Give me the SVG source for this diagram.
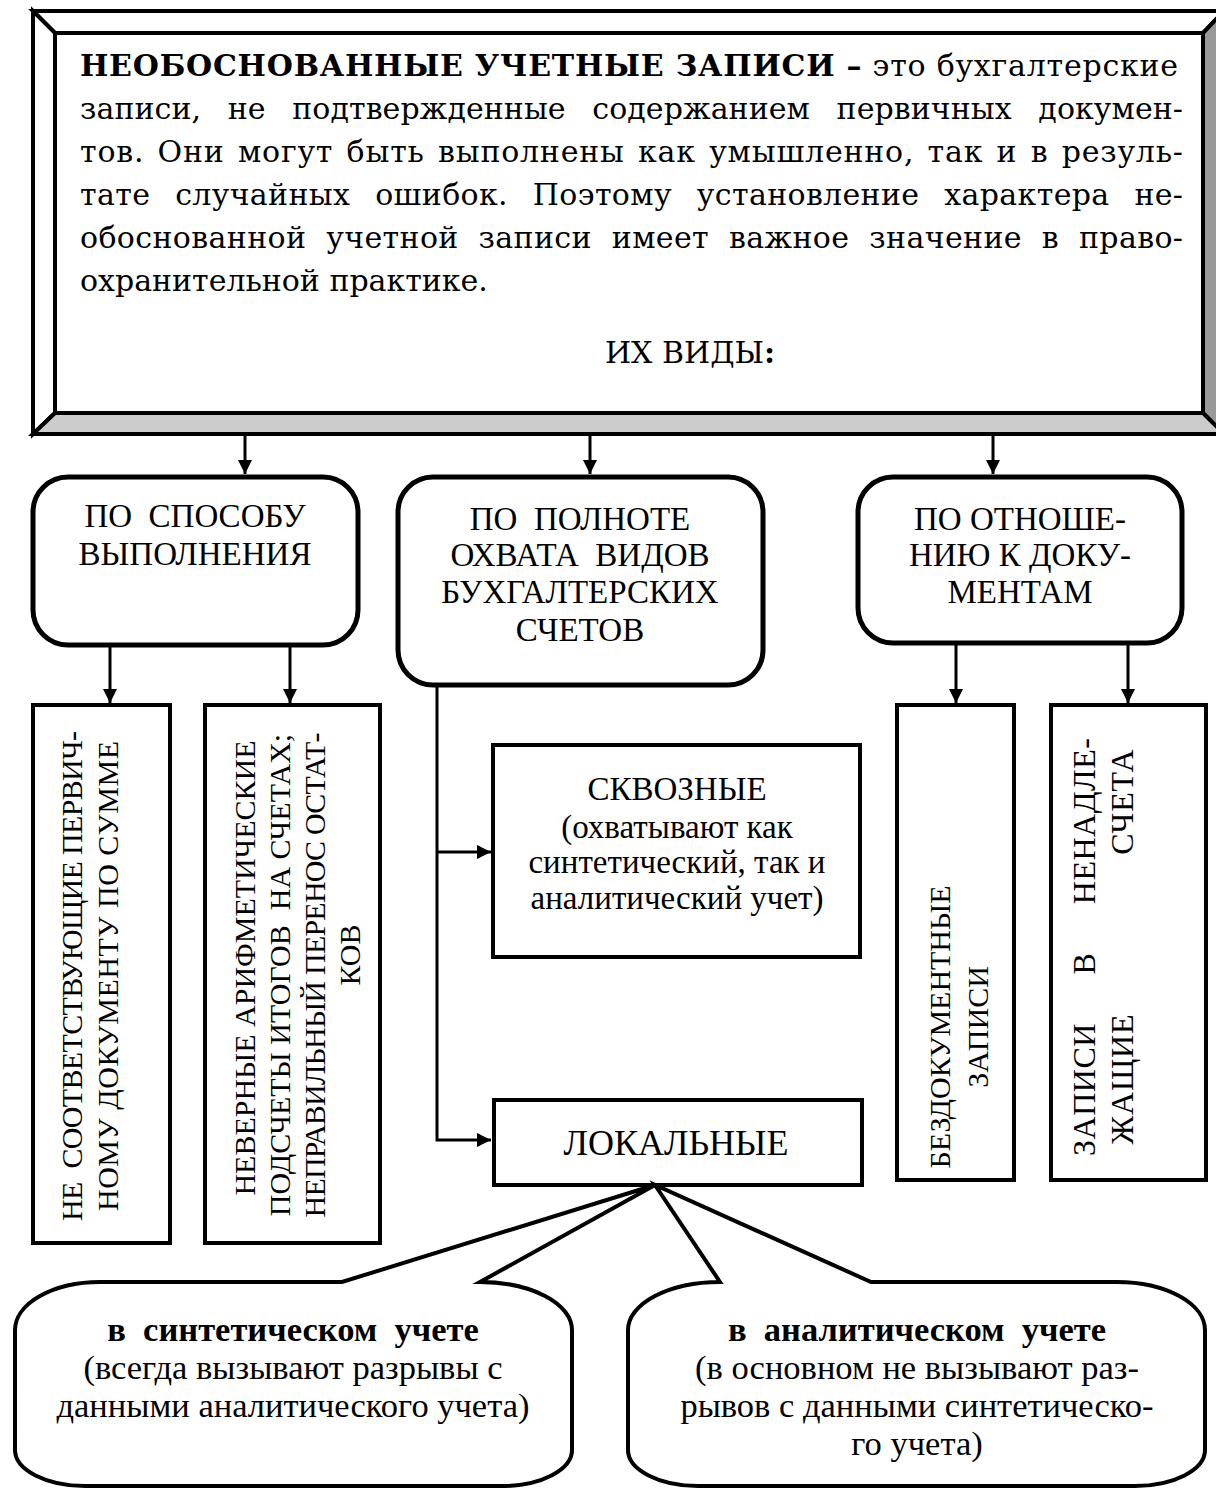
<svg xmlns="http://www.w3.org/2000/svg" width="1216" height="1490" viewBox="0 0 1216 1490">
<defs>
<style>
.bx{fill:#fff;stroke:#000;stroke-width:5}
.rc{fill:#fff;stroke:#000;stroke-width:4}
.ln{fill:none;stroke:#000;stroke-width:3}
.t{font-family:"Liberation Serif","Times New Roman",serif;font-size:33px;fill:#000}
.k{font-family:"Liberation Serif","Times New Roman",serif;font-size:34.5px;fill:#000}
.v{font-family:"Liberation Serif","Times New Roman",serif;font-size:30px;fill:#000}
.m{font-family:"DejaVu Serif",serif;font-size:30px;fill:#000}
.c{text-anchor:middle}
.b{font-weight:bold}
.pre{white-space:pre}
</style>
<marker id="ah" markerWidth="14" markerHeight="14" refX="14" refY="7" orient="auto" markerUnits="userSpaceOnUse"><path d="M0,0 L14,7 L0,14 Z" fill="#000"/></marker>
</defs>
<rect width="1216" height="1490" fill="#fff"/>

<g id="main">
<polygon points="33,11 1224,11 1203,33 55,33" fill="#fff" stroke="#000" stroke-width="4"/>
<polygon points="33,11 55,33 55,413 33,434" fill="#fff" stroke="#000" stroke-width="4"/>
<polygon points="1224,11 1224,434 1203,413 1203,33" fill="#999" stroke="#000" stroke-width="4"/>
<polygon points="33,434 55,413 1203,413 1224,434" fill="#ccc" stroke="#000" stroke-width="4"/>
<rect x="55" y="33" width="1148" height="380" fill="#fff" stroke="#000" stroke-width="4"/>
<text class="m" x="80" y="76" textLength="1098" lengthAdjust="spacing"><tspan class="b">НЕОБОСНОВАННЫЕ УЧЕТНЫЕ ЗАПИСИ –</tspan> это бухгалтерские</text>
<text class="m" x="80" y="119" textLength="1103" lengthAdjust="spacing" word-spacing="17">записи, не подтвержденные содержанием первичных докумен-</text>
<text class="m" x="80" y="162" textLength="1103" lengthAdjust="spacing" word-spacing="3">тов. Они могут быть выполнены как умышленно, так и в резуль-</text>
<text class="m" x="80" y="205" textLength="1103" lengthAdjust="spacing" word-spacing="15">тате случайных ошибок. Поэтому установление характера не-</text>
<text class="m" x="80" y="248" textLength="1103" lengthAdjust="spacing" word-spacing="10">обоснованной учетной записи имеет важное значение в право-</text>
<text class="m" x="80" y="291">охранительной практике.</text>
<text class="m c" x="690" y="363">ИХ ВИДЫ<tspan class="b">:</tspan></text>
</g>

<g id="connectors">
<path class="ln" d="M245,434 V474" marker-end="url(#ah)"/>
<path class="ln" d="M590,434 V474" marker-end="url(#ah)"/>
<path class="ln" d="M993,434 V474" marker-end="url(#ah)"/>
<path class="ln" d="M110,646 V703" marker-end="url(#ah)"/>
<path class="ln" d="M290,646 V703" marker-end="url(#ah)"/>
<path class="ln" d="M956,644 V703" marker-end="url(#ah)"/>
<path class="ln" d="M1128,644 V703" marker-end="url(#ah)"/>
<path class="ln" d="M437,687 V1140 H491" marker-end="url(#ah)"/>
<path class="ln" d="M437,852 H491" marker-end="url(#ah)"/>
</g>

<g id="by-method">
<rect class="bx" x="33" y="477" width="325" height="168" rx="35" ry="35"/>
<text class="t c pre" x="195" y="527">ПО  СПОСОБУ</text>
<text class="t c" x="195" y="565">ВЫПОЛНЕНИЯ</text>
</g>

<g id="by-coverage">
<rect class="bx" x="398" y="477" width="365" height="208" rx="35" ry="35"/>
<text class="t c pre" x="580" y="530">ПО  ПОЛНОТЕ</text>
<text class="t c pre" x="580" y="566">ОХВАТА  ВИДОВ</text>
<text class="t c" x="580" y="603">БУХГАЛТЕРСКИХ</text>
<text class="t c" x="580" y="641">СЧЕТОВ</text>
</g>

<g id="by-documents">
<rect class="bx" x="858" y="477" width="324" height="166" rx="35" ry="35"/>
<text class="t c" x="1020" y="530">ПО ОТНОШЕ-</text>
<text class="t c" x="1020" y="566">НИЮ К ДОКУ-</text>
<text class="t c" x="1020" y="603">МЕНТАМ</text>
</g>

<g id="mismatch">
<rect class="rc" x="33" y="705" width="137" height="538"/>
<text class="v c pre" transform="translate(82,976) rotate(-90)" textLength="490" lengthAdjust="spacing">НЕ  СООТВЕТСТВУЮЩИЕ ПЕРВИЧ-</text>
<text class="v c" transform="translate(118,976) rotate(-90)" textLength="470" lengthAdjust="spacing">НОМУ ДОКУМЕНТУ ПО СУММЕ</text>
</g>

<g id="arithmetic">
<rect class="rc" x="205" y="705" width="175" height="538"/>
<text class="v c" transform="translate(255,968) rotate(-90)">НЕВЕРНЫЕ АРИФМЕТИЧЕСКИЕ</text>
<text class="v c pre" transform="translate(290,975) rotate(-90)">ПОДСЧЕТЫ ИТОГОВ  НА СЧЕТАХ;</text>
<text class="v c" transform="translate(325,975) rotate(-90)" textLength="485" lengthAdjust="spacing">НЕПРАВИЛЬНЫЙ ПЕРЕНОС ОСТАТ-</text>
<text class="v c" transform="translate(360,955) rotate(-90)">КОВ</text>
</g>

<g id="through">
<rect class="rc" x="493" y="745" width="367" height="212"/>
<text class="t c" x="677" y="800">СКВОЗНЫЕ</text>
<text class="t c" x="677" y="838">(охватывают как</text>
<text class="t c" x="677" y="873">синтетический, так и</text>
<text class="t c" x="677" y="909">аналитический учет)</text>
</g>

<g id="local">
<rect class="rc" x="494" y="1100" width="368" height="85"/>
<text class="t c" x="676" y="1155" style="font-size:36px">ЛОКАЛЬНЫЕ</text>
</g>

<g id="undocumented">
<rect class="rc" x="897" y="705" width="117" height="475"/>
<text class="v c" transform="translate(950,1027) rotate(-90)">БЕЗДОКУМЕНТНЫЕ</text>
<text class="v c" transform="translate(988,1027) rotate(-90)">ЗАПИСИ</text>
</g>

<g id="wrong-accounts">
<rect class="rc" x="1051" y="705" width="155" height="475"/>
<text class="v c" transform="translate(1095,947) rotate(-90)" style="font-size:32px" textLength="418" lengthAdjust="spacing" word-spacing="40">ЗАПИСИ В НЕНАДЛЕ-</text>
<text class="v c" transform="translate(1133,947) rotate(-90)" style="font-size:32px" textLength="395" lengthAdjust="spacing" word-spacing="150">ЖАЩИЕ СЧЕТА</text>
</g>

<g id="synthetic">
<path class="rc" d="M100,1282 H342 L655,1185 L480,1282 A92,48 0 0 1 572,1330 V1450 A70,36 0 0 1 502,1486 H85 A70,36 0 0 1 15,1450 V1330 A85,48 0 0 1 100,1282 Z"/>
<text class="k c b pre" x="293" y="1341">в  синтетическом  учете</text>
<text class="k c" x="293" y="1379">(всегда вызывают разрывы с</text>
<text class="k c" x="293" y="1417">данными аналитического учета)</text>
</g>

<g id="analytic">
<path class="rc" d="M720,1282 L655,1185 L871,1282 H1117 A88,48 0 0 1 1205,1330 V1450 A70,36 0 0 1 1135,1486 H698 A70,36 0 0 1 628,1450 V1330 A92,48 0 0 1 720,1282 Z"/>
<text class="k c b pre" x="917" y="1341">в  аналитическом  учете</text>
<text class="k c" x="917" y="1379">(в основном не вызывают раз-</text>
<text class="k c" x="917" y="1417">рывов с данными синтетическо-</text>
<text class="k c" x="917" y="1455">го учета)</text>
</g>
</svg>
